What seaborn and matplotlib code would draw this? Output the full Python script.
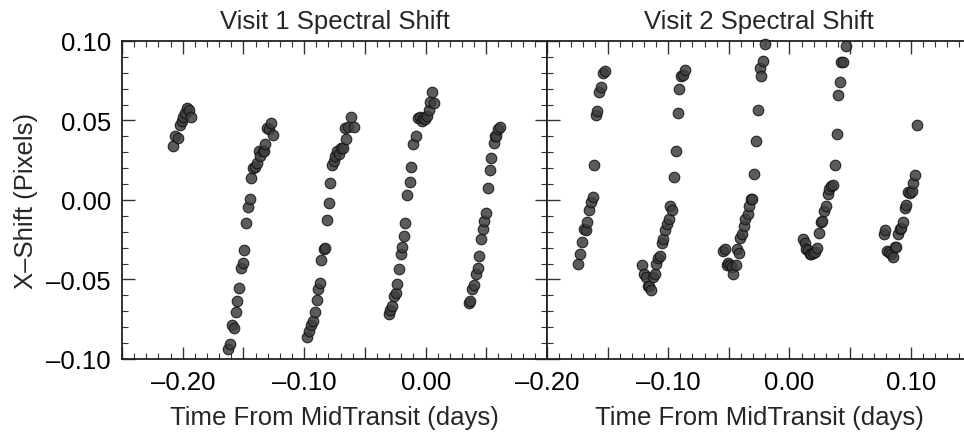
import matplotlib
matplotlib.use("Agg")
import matplotlib.pyplot as plt
import seaborn as sns
import pandas as pd
from matplotlib.ticker import MultipleLocator

# Visit 1 (five HST orbits), time from mid-transit in days, x-shift in pixels
v1_time = [
    -0.2082, -0.2063, -0.2041, -0.2022, -0.2008, -0.1995, -0.1978, -0.1964, -0.1948, -0.1934,
    -0.1629, -0.1607, -0.1591, -0.1577, -0.1563, -0.1552, -0.1536, -0.1522, -0.1508, -0.1492,
    -0.1478, -0.1464, -0.1448, -0.1434, -0.1418, -0.1404, -0.1390, -0.1374, -0.1360, -0.1343,
    -0.1330, -0.1319, -0.1308, -0.1291, -0.1275, -0.1258,
    -0.0973, -0.0959, -0.0942, -0.0929, -0.0915, -0.0898, -0.0885, -0.0871, -0.0860, -0.0841,
    -0.0827, -0.0813, -0.0799, -0.0786, -0.0772, -0.0758, -0.0745, -0.0731, -0.0714, -0.0698,
    -0.0684, -0.0654, -0.0668, -0.0640, -0.0615, -0.0588,
    -0.0305, -0.0291, -0.0277, -0.0264, -0.0247, -0.0236, -0.0220, -0.0206, -0.0192, -0.0179,
    -0.0168, -0.0154, -0.0132, -0.0121, -0.0107, -0.0082, -0.0066, -0.0049, -0.0033, -0.0019,
    -0.0005, 0.0011, 0.0027, 0.0038, 0.0066, 0.0055,
    0.0354, 0.0368, 0.0382, 0.0401, 0.0415, 0.0429, 0.0442, 0.0456, 0.0470, 0.0484,
    0.0500, 0.0516, 0.0527, 0.0541, 0.0560, 0.0571, 0.0582, 0.0596, 0.0615,
]
v1_shift = [
    0.0340, 0.0401, 0.0389, 0.0471, 0.0496, 0.0519, 0.0546, 0.0576, 0.0567, 0.0521,
    -0.0937, -0.0903, -0.0784, -0.0807, -0.0704, -0.0634, -0.0553, -0.0426, -0.0395, -0.0313,
    -0.0143, -0.0044, 0.0008, 0.0139, 0.0200, 0.0210, 0.0231, 0.0309, 0.0277, 0.0305,
    0.0309, 0.0349, 0.0450, 0.0445, 0.0481, 0.0408,
    -0.0863, -0.0824, -0.0784, -0.0763, -0.0704, -0.0630, -0.0563, -0.0521, -0.0380, -0.0311,
    -0.0305, -0.0128, -0.0019, 0.0109, 0.0223, 0.0246, 0.0277, 0.0309, 0.0288, 0.0328,
    0.0330, 0.0382, 0.0452, 0.0462, 0.0523, 0.0462,
    -0.0716, -0.0689, -0.0668, -0.0605, -0.0588, -0.0527, -0.0437, -0.0338, -0.0294, -0.0227,
    -0.0147, 0.0034, 0.0116, 0.0208, 0.0355, 0.0403, 0.0515, 0.0519, 0.0498, 0.0513,
    0.0508, 0.0529, 0.0565, 0.0618, 0.0607, 0.0676,
    -0.0647, -0.0637, -0.0563, -0.0536, -0.0468, -0.0426, -0.0355, -0.0244, -0.0185, -0.0134,
    -0.0082, 0.0078, 0.0187, 0.0267, 0.0357, 0.0403, 0.0403, 0.0445, 0.0460,
]

# Visit 2
v2_time = [
    -0.1742, -0.1725, -0.1709, -0.1695, -0.1681, -0.1668, -0.1654, -0.1640, -0.1624, -0.1610,
    -0.1599, -0.1585, -0.1569, -0.1555, -0.1538, -0.1522,
    -0.1214, -0.1201, -0.1184, -0.1170, -0.1157, -0.1140, -0.1126, -0.1113, -0.1099, -0.1082,
    -0.1069, -0.1055, -0.1041, -0.1025, -0.1011, -0.0997, -0.0984, -0.0967, -0.0951, -0.0937,
    -0.0923, -0.0909, -0.0896, -0.0879, -0.0863,
    -0.0547, -0.0533, -0.0519, -0.0505, -0.0489, -0.0475, -0.0462, -0.0445, -0.0434, -0.0420,
    -0.0404, -0.0390, -0.0376, -0.0363, -0.0346, -0.0332, -0.0319, -0.0305, -0.0291, -0.0277,
    -0.0258, -0.0245, -0.0231, -0.0217, -0.0203,
    0.0113, 0.0126, 0.0140, 0.0154, 0.0168, 0.0181, 0.0198, 0.0214, 0.0231, 0.0245,
    0.0258, 0.0272, 0.0288, 0.0302, 0.0316, 0.0330, 0.0343, 0.0360, 0.0374, 0.0390,
    0.0404, 0.0415, 0.0429, 0.0445, 0.0464,
    0.0780, 0.0791, 0.0802, 0.0819, 0.0835, 0.0852, 0.0868, 0.0882, 0.0896, 0.0909,
    0.0923, 0.0937, 0.0951, 0.0964, 0.0978, 0.0995, 0.1011, 0.1022, 0.1036, 0.1055,
]
v2_shift = [
    -0.0405, -0.0338, -0.0265, -0.0185, -0.0189, -0.0139, -0.0065, -0.0013, 0.0021, 0.0223,
    0.0534, 0.0559, 0.0681, 0.0712, 0.0796, 0.0809,
    -0.0408, -0.0466, -0.0483, -0.0538, -0.0542, -0.0567, -0.0483, -0.0468, -0.0401, -0.0363,
    -0.0353, -0.0273, -0.0248, -0.0191, -0.0153, -0.0122, -0.0038, -0.0065, 0.0147, 0.0309,
    0.0544, 0.0697, 0.0777, 0.0786, 0.0817,
    -0.0324, -0.0311, -0.0408, -0.0395, -0.0412, -0.0424, -0.0468, -0.0412, -0.0311, -0.0332,
    -0.0239, -0.0216, -0.0164, -0.0122, -0.0090, -0.0038, 0.0008, 0.0008, 0.0162, 0.0374,
    0.0567, 0.0830, 0.0782, 0.0876, 0.0981,
    -0.0248, -0.0269, -0.0307, -0.0315, -0.0338, -0.0342, -0.0332, -0.0328, -0.0303, -0.0210,
    -0.0137, -0.0134, -0.0069, -0.0038, 0.0036, 0.0067, 0.0088, 0.0095, 0.0218, 0.0416,
    0.0660, 0.0744, 0.0866, 0.0870, 0.0971,
    -0.0216, -0.0191, -0.0321, -0.0326, -0.0342, -0.0357, -0.0298, -0.0294, -0.0216, -0.0185,
    -0.0174, -0.0139, -0.0048, -0.0034, 0.0050, 0.0042, 0.0057, 0.0105, 0.0160, 0.0471,
]

titles = ["Visit 1 Spectral Shift", "Visit 2 Spectral Shift"]
xlabel = "Time From MidTransit (days)"
ylabel = "X\u2013Shift (Pixels)"
y_ticks = [-0.10, -0.05, 0.00, 0.05, 0.10]
x_ticks_v1 = [-0.20, -0.10, 0.00]
x_ticks_v2 = [-0.20, -0.10, 0.00, 0.10]

sns.set_style("ticks")
plt.rcParams["font.family"] = ["Liberation Sans", "DejaVu Sans"]
plt.rcParams.update({"font.size": 18.5, "axes.linewidth": 1.3})


def fmt(v):
    s = "%.2f" % abs(v)
    return ("\u2013" + s) if v < -1e-9 else s


fig = plt.figure(figsize=(9.64, 4.39), dpi=100)
ax1 = fig.add_axes([0.1266, 0.18, 0.4409, 0.7244])
ax2 = fig.add_axes([0.5674, 0.18, 0.4402, 0.7244])

df1 = pd.DataFrame({"time": v1_time, "shift": v1_shift})
df2 = pd.DataFrame({"time": v2_time, "shift": v2_shift})

for ax, df, title, xt, xlim in [
    (ax1, df1, titles[0], x_ticks_v1, (-0.25, 0.10)),
    (ax2, df2, titles[1], x_ticks_v2, (-0.20, 0.15)),
]:
    sns.scatterplot(data=df, x="time", y="shift", ax=ax, s=58, color="#3f3f3f",
                    edgecolor="#111111", linewidth=0.8, alpha=0.85, zorder=3,
                    clip_on=False)
    ax.set_xlim(*xlim)
    ax.set_ylim(-0.10, 0.10)
    ax.xaxis.set_major_locator(MultipleLocator(0.05))
    ax.xaxis.set_minor_locator(MultipleLocator(0.01))
    ax.yaxis.set_major_locator(MultipleLocator(0.05))
    ax.yaxis.set_minor_locator(MultipleLocator(0.01))
    ax.set_xticklabels([fmt(t) if any(abs(t - v) < 1e-6 for v in xt) else ""
                        for t in ax.get_xticks()])
    ax.tick_params(which="both", direction="in", top=True, right=True, colors="#333333",
                   labelcolor="black")
    ax.tick_params(which="major", length=9, width=1.0, pad=8)
    ax.tick_params(which="minor", length=4.5, width=0.8)
    ax.set_title(title, fontsize=18.5, pad=9)
    ax.set_xlabel(xlabel, fontsize=18.5, labelpad=8)
    ax.set_xlim(*xlim)
    for sp in ax.spines.values():
        sp.set_color("#222222")

ax1.set_yticks(y_ticks)
ax1.set_yticklabels([fmt(v) for v in y_ticks])
ax1.set_ylim(-0.10, 0.10)
ax1.set_ylabel(ylabel, fontsize=18.5, labelpad=6)
ax2.set_ylabel("")
ax2.set_yticklabels([])
ax2.tick_params(which="both", right=False)

fig.savefig("out.png", dpi=100)
